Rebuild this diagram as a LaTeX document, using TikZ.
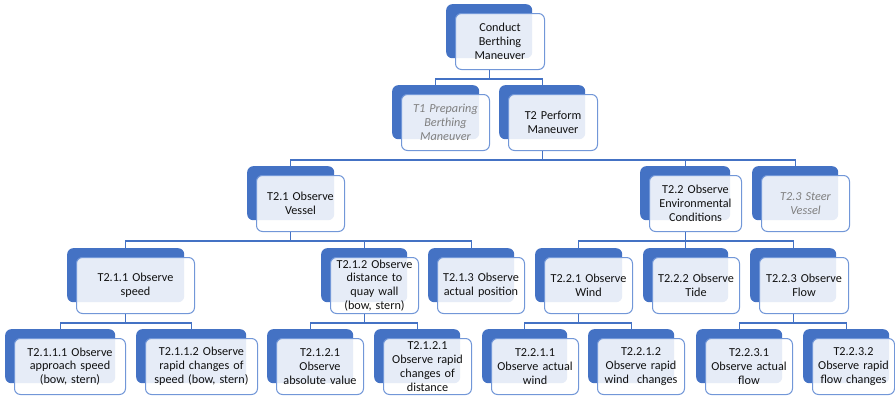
\documentclass[tikz,border=0pt]{standalone}
\usepackage{fontspec}
\setmainfont{Carlito}
\definecolor{accent}{HTML}{4472C4}
\definecolor{edgeblue}{HTML}{7297D8}
\definecolor{inkgray}{HTML}{7F7F7F}
\definecolor{inkdark}{HTML}{111111}
\tikzset{
  backbox/.style={draw=none, fill=accent, rounded corners=6pt, inner sep=0pt,
    anchor=north west, minimum height=54pt},
  frontbox/.style={draw=edgeblue, line width=1pt, fill=white, fill opacity=0.87,
    text opacity=1, rounded corners=6pt, inner sep=0pt, anchor=north west,
    minimum height=56pt, align=center, text=inkdark,
    font=\fontsize{12.2}{13.8}\selectfont},
  muted/.style={text=inkgray, font=\fontsize{12.2}{13.8}\selectfont\itshape},
  conn/.style={draw=accent, line width=1.1pt},
}
% A task: dark tab behind, lighter card offset on top of it
% [extra style]{name}{x,y}{tab width}{card width}{text}
\newcommand\tasknode[6][]{%
  \pgfmathsetmacro\cardtw{#5-2}%
  \node[backbox, minimum width=#4pt] (b-#2) at (#3) {};
  \node[frontbox, minimum width=#5pt, text width=\cardtw pt, #1] (#2)
    at ([shift={(9,9)}]b-#2.north west) {#6};
}
\begin{document}
\begin{tikzpicture}[x=1pt, y=-1pt]
\useasboundingbox (0,0) rectangle (895,397);

% level 0
\tasknode{c}{446,4}{86}{89}{Conduct\\Berthing\\Maneuver}
% level 1
\tasknode[muted]{t1}{392,85}{87}{88}{T1 Preparing\\Berthing\\Maneuver}
\tasknode{t2}{499,85}{86}{89}{T2 Perform\\Maneuver}
% level 2
\tasknode{t21}{247,166}{87}{88}{T2.1 Observe\\Vessel}
\tasknode{t22}{640,166}{90}{92}{T2.2 Observe\\Environmental\\Conditions}
\tasknode[muted]{t23}{752,166}{86}{88}{T2.3 Steer\\Vessel}
% level 3
\tasknode{t211}{67,248}{117}{118}{T2.1.1 Observe\\speed}
\tasknode{t212}{321,248}{86}{88}{T2.1.2 Observe\\distance to\\quay wall\\(bow, stern)}
\tasknode{t213}{428,248}{86}{87}{T2.1.3 Observe\\actual position}
\tasknode{t221}{535,248}{87}{88}{T2.2.1 Observe\\Wind}
\tasknode{t222}{643,248}{85}{87}{T2.2.2 Observe\\Tide}
\tasknode{t223}{750,248}{86}{89}{T2.2.3 Observe\\Flow}
% level 4
\tasknode{t2111}{5,329}{110}{111}{T2.1.1.1 Observe\\approach speed\\(bow, stern)}
\tasknode{t2112}{136,329}{110}{112}{T2.1.1.2 Observe\\rapid changes of\\speed (bow, stern)}
\tasknode{t2121}{267,329}{86}{87}{T2.1.2.1\\Observe\\absolute value}
\tasknode{t2122}{374,329}{86}{88}{T2.1.2.1\\Observe rapid\\changes of\\distance}
\tasknode{t2211}{482,329}{85}{87}{T2.2.1.1\\Observe actual\\wind}
\tasknode{t2212}{588,329}{86}{87}{T2.2.1.2\\Observe rapid\\wind~ changes}
\tasknode{t2231}{696,329}{86}{87}{T2.2.3.1\\Observe actual\\flow}
\tasknode{t2232}{803,329}{86}{82}{T2.2.3.2\\Observe rapid\\flow changes}

% connectors: down from the parent, along a bus, down to each child tab
\foreach \p/\k in {c/t1, c/t2,
                   t2/t21, t2/t22, t2/t23,
                   t21/t211, t21/t212, t21/t213,
                   t22/t221, t22/t222, t22/t223,
                   t211/t2111, t211/t2112,
                   t212/t2121, t212/t2122,
                   t221/t2211, t221/t2212,
                   t223/t2231, t223/t2232}
  \draw[conn] (b-\p |- \p.south) -- ++(0,9) -| (b-\k.north);
\end{tikzpicture}
\end{document}
